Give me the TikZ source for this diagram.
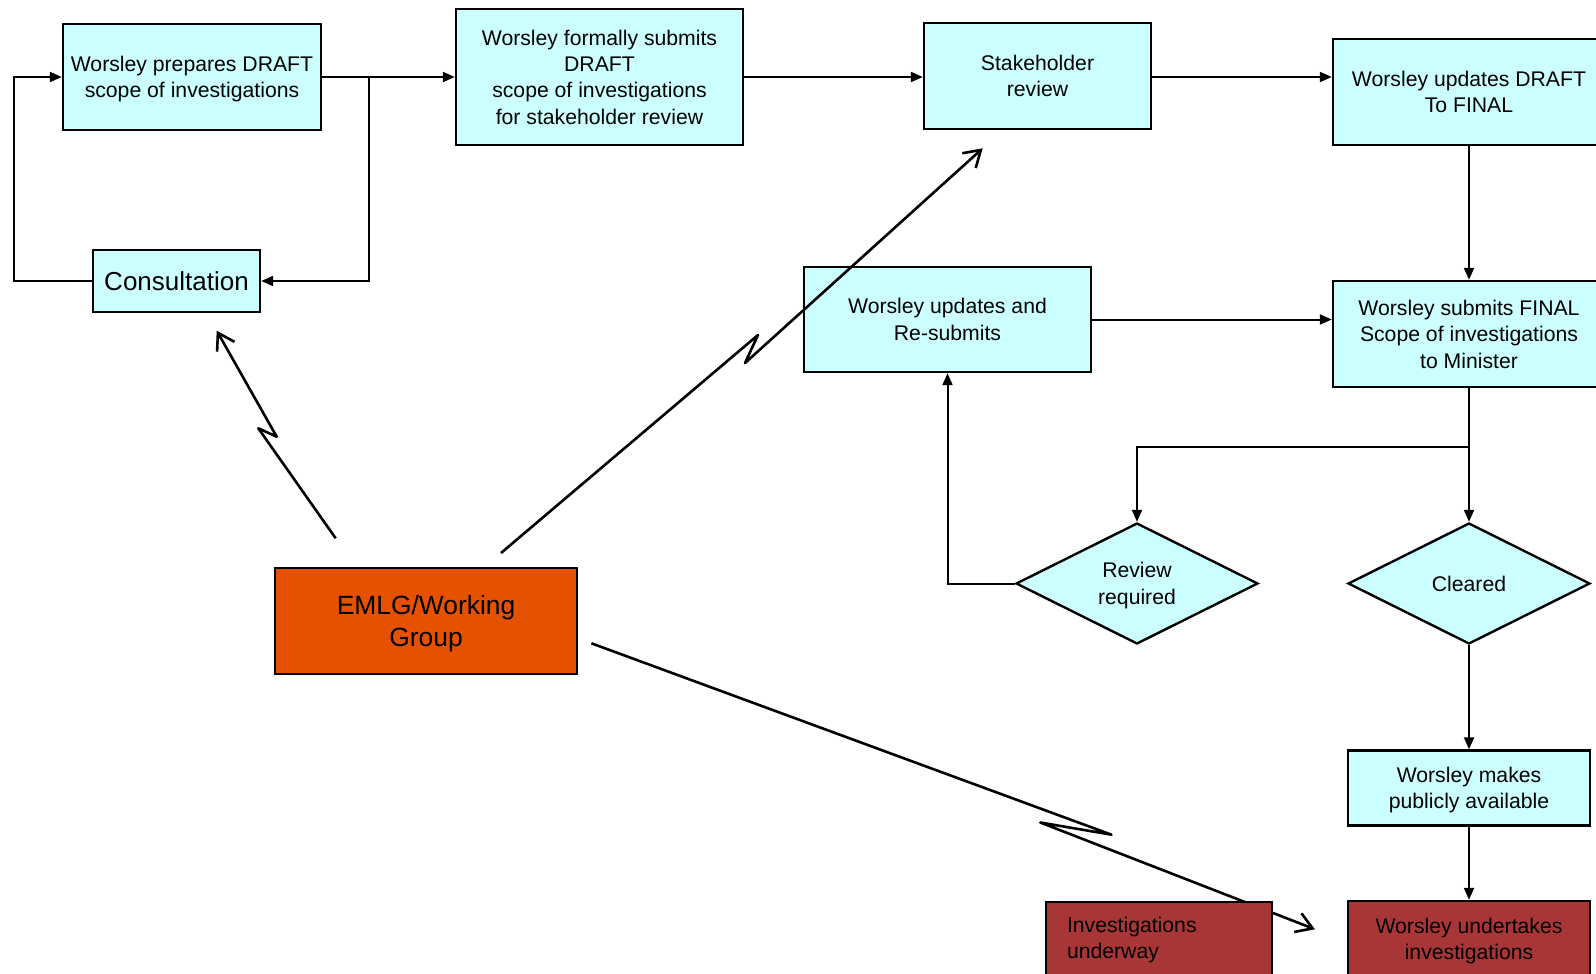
\documentclass[tikz,border=0pt]{standalone}
\usepackage{fontspec}
\setmainfont{Liberation Sans}
\usetikzlibrary{arrows.meta,shapes.geometric}
\pgfdeclarelayer{bg}
\pgfdeclarelayer{paper}
\pgfsetlayers{paper,bg,main}
\definecolor{boxcyan}{RGB}{204,255,255}
\definecolor{emlgorange}{RGB}{230,81,0}
\definecolor{invred}{RGB}{168,54,54}
\begin{document}
\begin{tikzpicture}[x=0.5pt,y=-0.5pt,
  box/.style={draw=black,line width=1.2pt,fill=boxcyan,align=center,inner sep=0pt,text depth=0pt,
    font=\fontsize{10.6}{13.2}\selectfont},
  dia/.style={box,shape=diamond,aspect=2},
  redbox/.style={box,fill=invred},
  conn/.style={line width=1pt,-{Triangle[length=6pt,width=5pt]}},
  plain/.style={line width=1pt},
  bolt/.style={line width=1.3pt,line join=round,-{Straight Barb[length=8pt,width=10pt,line width=1.3pt]}}]
\useasboundingbox (0,0) rectangle (1596,974);
\clip (0,0) rectangle (1596,974);
\begin{pgfonlayer}{paper}
\fill[white] (0,0) rectangle (1596,974);
\end{pgfonlayer}

% nodes
\node[box,minimum width=129pt,minimum height=53pt] (b1) at (192,77) {Worsley prepares DRAFT\\scope of investigations};
\node[box,minimum width=143.5pt,minimum height=68pt] (b2) at (599.5,77) {Worsley formally submits\\DRAFT\\scope of investigations\\for stakeholder review};
\node[box,minimum width=113.5pt,minimum height=53pt] (b3) at (1037.5,76) {Stakeholder\\review};
\node[box,minimum width=136pt,minimum height=53pt] (b4) at (1469,92) {Worsley updates DRAFT\\To FINAL};
\node[box,minimum width=83.5pt,minimum height=31pt,font=\fontsize{13}{15.6}\selectfont] (cons) at (176.5,281) {Consultation};
\node[box,minimum width=143.5pt,minimum height=52.5pt] (resub) at (947.5,319.5) {Worsley updates and\\Re-submits};
\node[box,minimum width=136pt,minimum height=53pt] (final) at (1469,334) {Worsley submits FINAL\\Scope of investigations\\to Minister};
\node[dia,minimum width=121pt,minimum height=60.5pt] (rev) at (1137,583.5) {Review\\required};
\node[dia,minimum width=121pt,minimum height=60.5pt] (clr) at (1469,583.5) {Cleared};
\node[box,minimum width=121pt,minimum height=37.5pt] (make) at (1469,788) {Worsley makes\\publicly available};
\node[redbox,minimum width=121pt,minimum height=38pt] (under) at (1469,939) {Worsley undertakes\\investigations};
\node[redbox,text depth=,minimum height=38pt,text width=92pt,align=left,inner xsep=10.5pt] (inv) at (1159,940) {Investigations\\underway};
\node[box,fill=emlgorange,minimum width=151pt,minimum height=53pt,font=\fontsize{13.2}{15.8}\selectfont] (emlg) at (426,621) {EMLG/Working\\Group};

% flow connectors
\coordinate (br) at (369,77);
\draw[conn] (b1.east) -- (b2.west);
\draw[conn] (br) |- (cons.east);
\draw[conn] (cons.west) -| ([xshift=-24pt]b1.west) -- (b1.west);
\draw[conn] (b2.east) -- (b2.east -| b3.west);
\draw[conn] (b2.east -| b3.east) -- (b2.east -| b4.west);
\draw[conn] (b4.south) -- (final.north);
\draw[conn] (resub.east) -- (resub.east -| final.west);
\coordinate (split) at (1469,447);
\draw[plain] (final.south) -- (split);
\draw[conn] (split) -| (rev.north);
\draw[conn] (split) -- (clr.north);
\draw[conn] (rev.west) -| (resub.south);
\draw[conn] (clr.south) -- (make.north);
\draw[conn] (make.south) -- (under.north);

% lightning arrows
\coordinate (s1) at (335.7,538.3);
\coordinate (k1a) at (258.3,428.3);
\coordinate (k1b) at (276.7,436.7);
\coordinate (t1) at (216.7,330.7);
\draw[bolt] (s1) -- (k1a) -- (k1b) -- (t1);

\coordinate (s2) at (501,553);
\coordinate (k2a) at (758,335);
\coordinate (k2b) at (745,363);
\coordinate (t2) at (982.7,148.3);
\draw[bolt] (s2) -- (k2a) -- (k2b) -- (t2);

\coordinate (s3) at (591.4,643.3);
\coordinate (k3a) at (1111.5,834.7);
\coordinate (k3b) at (1040.3,822.5);
\coordinate (t3) at (1315,929.3);
\begin{pgfonlayer}{bg}
\draw[bolt] (s3) -- (k3a) -- (k3b) -- (t3);
\end{pgfonlayer}
\end{tikzpicture}
\end{document}
